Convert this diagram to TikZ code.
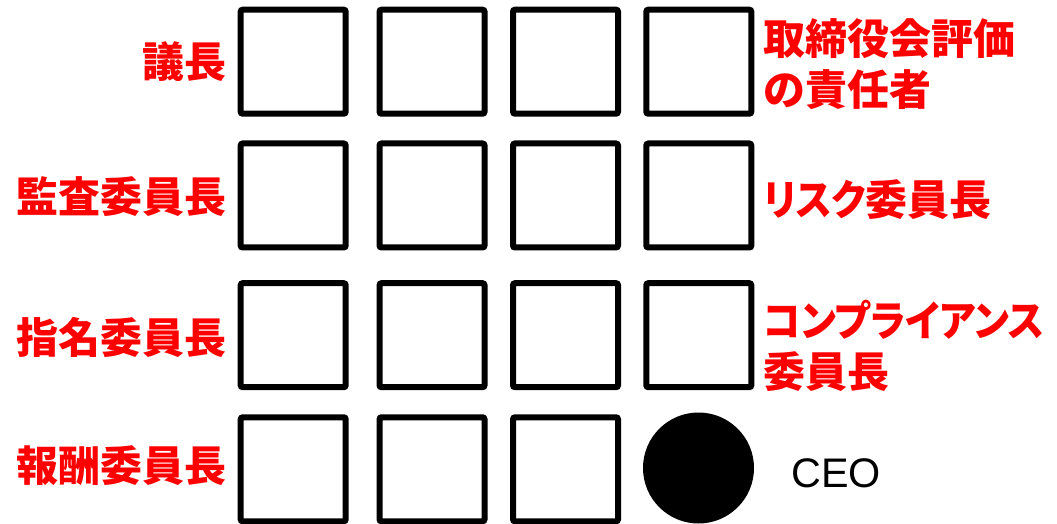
\documentclass[tikz,border=0pt]{standalone}
\usepackage{fontspec}
\setmainfont{Liberation Sans}
\newfontfamily\jpfont{Noto Sans CJK JP}
\newfontfamily\jpprop{Noto Sans CJK JP}[RawFeature=+palt]
\usetikzlibrary{positioning}

\begin{document}
\begin{tikzpicture}[x=0.75pt, y=-0.75pt,
    seat/.style={rectangle, draw=black, line width=4.5pt, rounded corners=1.5pt,
                 minimum width=78.75pt, minimum height=78pt, inner sep=0pt},
    ceoseat/.style={circle, fill=black, minimum size=83.25pt, inner sep=0pt},
    lhead/.style={font=\jpfont\bfseries\fontsize{31.5pt}{38pt}\selectfont,
                  text=red, inner sep=0pt, anchor=east},
    rhead/.style={font=\jpfont\bfseries\fontsize{31.5pt}{38.25pt}\selectfont,
                  text=red, inner sep=0pt, anchor=west, align=left}
  ]
  \useasboundingbox (0,0) rectangle (1057,524);

  % Board seats, first three rows
  \foreach \r/\y in {1/61.7, 2/195.5, 3/335.2} {
    \foreach \c/\x in {1/293.2, 2/432, 3/565.5, 4/698.8} {
      \node[seat] (seat\r\c) at (\x, \y) {};
    }
  }
  % Last row: three seats and the CEO
  \foreach \c/\x in {1/293.2, 2/432, 3/565.5} {
    \node[seat] (seat4\c) at (\x, 469.3) {};
  }
  \node[ceoseat] (ceo) at (698.5, 468) {};
  \node[font=\fontsize{31pt}{38pt}\selectfont, inner sep=0pt, anchor=west]
        (ceolbl) at (791, 473) {CEO};

  % Left labels
  \node[lhead] (chair) at (227, 61.7) {議長};
  \node[lhead] (audit) at (227, 197) {監査委員長};
  \node[lhead] (nomin) at (227, 337) {指名委員長};
  \node[lhead] (remun) at (227, 466) {報酬委員長};

  % Right labels
  \node[rhead] (evalhd) at (763, 64) {取締役会評価\\の責任者};
  \node[rhead] (risk) at (763, 200)
        {\resizebox{77pt}{\height}{\jpprop リスク}委員長};
  \node[rhead] (compl) at (763, 346)
        {\resizebox{211pt}{\height}{\jpprop コンプライアンス}\\委員長};
\end{tikzpicture}
\end{document}
